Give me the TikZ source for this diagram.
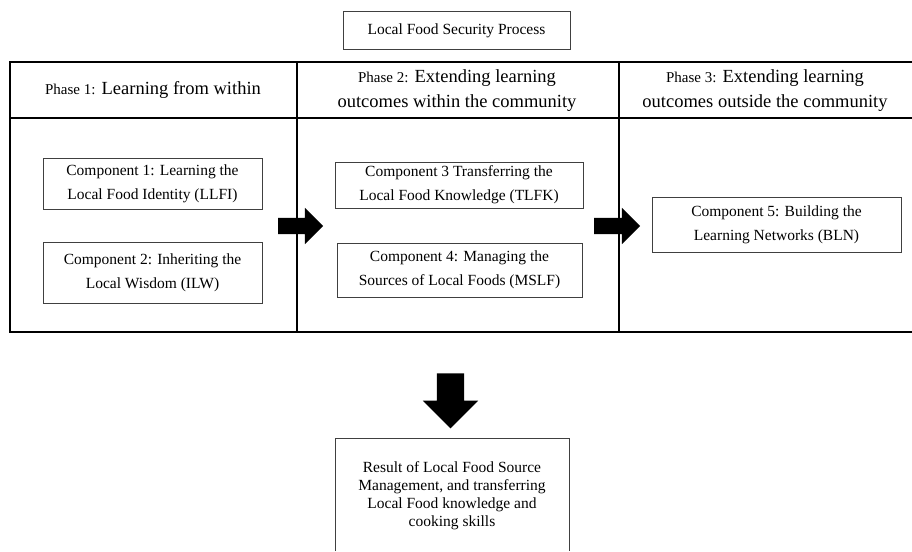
\documentclass[tikz,border=0pt]{standalone}
\usepackage{fontspec}
\setmainfont{Liberation Serif}
\usetikzlibrary{shapes.arrows}

\tikzset{
  compbox/.style={draw=black!75, line width=1pt, align=center, inner sep=0pt,
    font=\fontsize{15.5}{24}\selectfont},
  phasetext/.style={align=center, font=\fontsize{18.5}{25}\selectfont},
  blockarrow/.style={single arrow, fill=black, draw=none, inner xsep=0pt, inner ysep=8pt,
    single arrow head extend=10pt, minimum width=36pt, minimum height=45pt},
}
\newcommand{\smallph}[1]{{\fontsize{15}{25}\selectfont #1}}

\begin{document}
\begin{tikzpicture}[x=1pt,y=-1pt]
\useasboundingbox (0,0) rectangle (912,551);

% title
\node[draw=black!75, line width=1pt, minimum width=227pt, minimum height=38pt,
  font=\fontsize{15.5}{18}\selectfont] (title) at (456.5,31) {Local Food Security Process};

% table
\draw[line width=1.2pt] (912,62) -- (10,62) -- (10,332) -- (912,332);
\draw[line width=1.2pt] (10,118) -- (912,118);
\draw[line width=1.5pt] (297,62) -- (297,332);
\draw[line width=1.5pt] (619,62) -- (619,332);

\node[phasetext] (ph1) at (153,90) {\smallph{Phase 1:} Learning from within};
\node[phasetext] (ph2) at (457,91) {\smallph{Phase 2:} Extending learning\\outcomes within the community};
\node[phasetext] (ph3) at (765,91) {\smallph{Phase 3:} Extending learning\\outcomes outside the community};

% components
\node[compbox, minimum width=219pt, minimum height=51pt] (c1) at (152.5,183.5)
  {Component 1: Learning the\\Local Food Identity (LLFI)};
\node[compbox, minimum width=219pt, minimum height=61pt] (c2) at (152.5,272.5)
  {Component 2: Inheriting the\\Local Wisdom (ILW)};
\node[compbox, minimum width=248pt, minimum height=46pt] (c3) at (459,185)
  {Component 3 Transferring the\\Local Food Knowledge (TLFK)};
\node[compbox, minimum width=245pt, minimum height=54pt] (c4) at (459.5,270)
  {Component 4: Managing the\\Sources of Local Foods (MSLF)};
\node[compbox, minimum width=249pt, minimum height=55pt] (c5) at (776.5,224.5)
  {Component 5: Building the\\Learning Networks (BLN)};

% arrows
\node[blockarrow] (a1) at (296.5,226) {};
\node[blockarrow, minimum height=46pt] (a2) at (613,226) {};
\node[blockarrow, rotate=-90, inner ysep=13.5pt, minimum width=55pt, minimum height=55pt,
  single arrow head extend=14pt] (a3) at (450.5,394) {};

% result
\node[align=center, font=\fontsize{15.5}{18}\selectfont] (res) at (452,496)
  {Result of Local Food Source\\Management, and transferring\\Local Food knowledge and\\cooking skills};
\draw[draw=black!75, line width=1pt] (335,551) -- (335,438) -- (569,438) -- (569,551);

\end{tikzpicture}
\end{document}
